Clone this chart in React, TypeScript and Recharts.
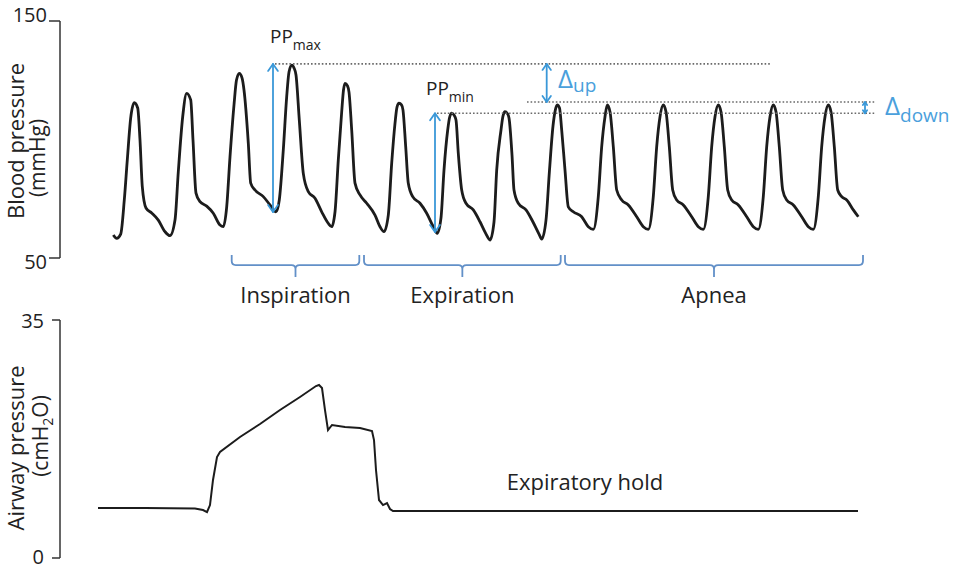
import React from 'react';
import { LineChart, Line, XAxis, YAxis, ReferenceLine, ReferenceDot } from 'recharts';

const FONT = '"Open Sans", "Liberation Sans", sans-serif';
const TEXT = '#222222';
const TRACE = '#1c1c1c';
const ARROW = '#3a98d8';
const DELTA = '#4aa0dc';
const BRACKET = '#6290c8';
const DOTS = '#6a6a6a';

// time in 1/100 s, arterial blood pressure in mmHg
const bloodPressure: [number, number][] = [
  [52.3, 59.7], [55.7, 58.3], [59.7, 60.1], [63.3, 74.5], [66.3, 91.4], [69.7, 109.1], [73.3, 115.5], [76.7, 113.3], [79, 99.8], [81.3, 80.1], [85, 71.1], [90.7, 69.0], [97.3, 66.0], [104, 61.1], [109, 59.4],
  [114, 66.0], [117.3, 86.4], [121.7, 109.6], [125.7, 119.5], [129.7, 116.7], [132, 99.8], [135, 77.4], [139, 73.8], [145.7, 71.9], [152.3, 68.9], [159, 63.9], [162.3, 63.2],
  [165.7, 71.6], [169, 92.7], [173, 114.6], [175.5, 125.1], [178.3, 127.9], [181, 126.0], [183, 120.9], [187.3, 98.5], [189.7, 81.6], [194, 78.7], [202.3, 75.9], [209, 72.4], [215, 69.5],
  [218.3, 74.5], [222.3, 95.6], [225.7, 118.1], [228, 128.5], [230.7, 131.4], [233, 130.2], [235, 127.2], [238.3, 108.2], [242.3, 85.7], [247.3, 78.0], [254, 75.2], [260.7, 69.5], [267.3, 64.6], [270.7, 63.2],
  [274, 69.4], [277.3, 91.4], [280.7, 111.7], [282.5, 120.9], [284, 123.7], [286.5, 122.6], [288, 120.0], [290.7, 104.0], [294, 81.6], [299, 76.6], [305.7, 73.1], [314, 68.1], [319, 63.2], [323, 61.1],
  [327.3, 68.1], [330.7, 90.0], [334, 106.8], [336, 113.7], [338, 115.3], [340.5, 114.6], [342, 112.4], [344.7, 97.0], [347.3, 81.5], [351.7, 75.9], [359, 73.1], [365.7, 68.9], [372.3, 63.2], [376.3, 60.4],
  [380, 66.9], [383, 87.1], [386.7, 104.0], [388.7, 109.5], [390.7, 111.1], [393, 110.3], [395, 108.2], [397.3, 94.2], [400.7, 78.7], [405, 73.1], [412.3, 70.3], [419, 65.3], [424.7, 60.4], [429, 57.6],
  [433, 65.2], [435.7, 87.1], [440, 104.0], [442, 109.9], [444, 111.7], [446.3, 111.0], [448, 109.1], [451, 93.5], [453, 78.7], [457.3, 73.1], [465, 70.3], [472, 65.2], [478, 60.1], [480.7, 58.0],
  [485, 66.0], [488.5, 87.1], [492, 105.7], [494.3, 112.4], [496.3, 114.6], [498.5, 113.3], [500.7, 104.0], [504, 87.1], [507.3, 71.6], [512.3, 69.5], [520.7, 67.4], [527.3, 63.2], [532.3, 62.1],
  [537.3, 75.9], [540.7, 97.0], [544, 109.6], [546.3, 114.6], [549, 111.7], [552.3, 97.0], [555.7, 78.7], [560.7, 74.5], [567.3, 72.4], [575.7, 67.4], [582.3, 63.2], [587.3, 62.1],
  [592.3, 75.9], [595.7, 97.0], [599, 109.6], [602.3, 114.6], [605, 111.7], [608.3, 97.0], [611.7, 78.7], [615.7, 74.5], [622.3, 72.4], [630.7, 67.4], [637.3, 63.2], [642.3, 62.1],
  [647.3, 75.9], [650.7, 97.0], [654, 109.6], [657.3, 114.6], [660, 111.7], [663.3, 97.0], [666.7, 78.7], [670.7, 74.5], [677.3, 72.4], [685.7, 67.4], [692.3, 63.2], [697.3, 62.1],
  [702.3, 75.9], [705.7, 97.0], [709, 109.6], [712.3, 114.6], [715, 111.7], [718.3, 97.0], [721.7, 78.7], [725.7, 74.5], [732.3, 72.4], [740.7, 67.4], [747.3, 63.2], [752.3, 62.1],
  [757.3, 75.9], [760.7, 97.0], [764, 109.6], [767.3, 114.6], [770, 111.7], [773.3, 97.0], [776.7, 78.7], [780.7, 75.9], [785.7, 74.5], [792.3, 70.3], [797.3, 67.4],
];

// time in 1/100 s, airway pressure in cmH2O
const airwayPressure: [number, number][] = [
  [37, 7.35], [84, 7.35], [134, 7.28], [142, 7.06], [146, 6.76], [149, 7.79], [152, 11.47], [156, 14.85], [159, 15.59],
  [179, 17.79], [199, 19.71], [219, 21.76], [239, 23.68], [255, 25.29], [258, 25.44], [261, 25.0], [264, 21.76], [267, 18.82],
  [271, 19.56], [284, 19.26], [299, 19.12], [311, 18.68], [313, 17.35], [315, 12.94], [318, 8.53], [322, 7.79], [326, 8.09],
  [329, 7.21], [332, 6.91], [797, 6.91],
];

const timeDomain: [number, number] = [-1, 819];
const bpDomain: [number, number] = [50, 150];
const bpTicks = [50, 150];
const awDomain: [number, number] = [0, 35];
const awTicks = [0, 35];

// dotted pulse-pressure levels (mmHg)
const dottedLevels = [
  { from: 214, to: 709, level: 131.9 },
  { from: 466, to: 814, level: 115.8 },
  { from: 376, to: 814, level: 111.05 },
];

// double-headed arrows (time, from mmHg, to mmHg)
const arrows = [
  { t: 212, from: 131.9, to: 69.4, head: 7 },
  { t: 374, from: 111.05, to: 61.0, head: 7 },
  { t: 485.7, from: 131.9, to: 115.8, head: 6 },
  { t: 804, from: 115.8, to: 111.05, head: 3 },
];

const phases = [
  { name: 'Inspiration', start: 170.7, end: 298.3 },
  { name: 'Expiration', start: 303, end: 499.7 },
  { name: 'Apnea', start: 504, end: 802 },
];
const bracketLevel = 47.0;
const phaseLabelLevel = 31.0;

const subLabels = [
  { t: 209, v: 140.7, main: 'PP', sub: 'max', size: 19, subSize: 14, dy: 7, color: TEXT },
  { t: 365, v: 118.8, main: 'PP', sub: 'min', size: 19, subSize: 14, dy: 7, color: TEXT },
  { t: 497, v: 121.7, main: 'Δ', sub: 'up', size: 26, subSize: 19, dy: 4, color: DELTA },
  { t: 824, v: 110.3, main: 'Δ', sub: 'down', size: 26, subSize: 19, dy: 7, color: DELTA },
];

const holdLabel = { t: 524, v: 10.0, text: 'Expiratory hold' };

const bpData = bloodPressure.map(([t, v]) => ({ t, bp: v }));
const awData = airwayPressure.map(([t, v]) => ({ t, aw: v }));

const makeTick = (offsets: Record<number, number>) => (props: any) => {
  const { x, y, payload } = props;
  return (
    <text x={x} y={y + (offsets[payload.value] ?? 0)} dy="0.35em" textAnchor="end" fontSize={20} fill={TEXT} fontFamily={FONT}>
      {payload.value}
    </text>
  );
};

const arrowShape = (head: number) => (props: any) => {
  const { x1, y1, x2, y2 } = props;
  const dir = y2 > y1 ? 1 : -1;
  const w = head * 0.7;
  return (
    <g stroke={ARROW} strokeWidth={1.8} fill="none" strokeLinecap="round" strokeLinejoin="round">
      <line x1={x1} y1={y1} x2={x2} y2={y2} />
      <polyline points={`${x1 - w},${y1 + dir * head} ${x1},${y1} ${x1 + w},${y1 + dir * head}`} />
      <polyline points={`${x2 - w},${y2 - dir * head} ${x2},${y2} ${x2 + w},${y2 - dir * head}`} />
    </g>
  );
};

const dottedShape = (props: any) => {
  const { x1, y1, x2, y2 } = props;
  return <line x1={x1} y1={y1} x2={x2} y2={y2} stroke={DOTS} strokeWidth={1.6} strokeDasharray="1.6 2" />;
};

const bracketShape = (props: any) => {
  const { x1, y1, x2 } = props;
  const y = y1;
  const xc = (x1 + x2) / 2;
  const r = 4;
  const up = 10;
  const down = 12;
  const d = `M${x1},${y - up} L${x1},${y - r} Q${x1},${y} ${x1 + r},${y} L${xc - r},${y} Q${xc},${y} ${xc},${y + r} L${xc},${y + down} M${xc},${y + r} Q${xc},${y} ${xc + r},${y} L${x2 - r},${y} Q${x2},${y} ${x2},${y - r} L${x2},${y - up}`;
  return <path d={d} stroke={BRACKET} strokeWidth={1.8} fill="none" />;
};

const subLabelShape = (l: typeof subLabels[number]) => (props: any) => (
  <text x={props.cx} y={props.cy} fontFamily={FONT} fill={l.color}>
    <tspan fontSize={l.size}>{l.main}</tspan>
    <tspan fontSize={l.subSize} dy={l.dy}>{l.sub}</tspan>
  </text>
);

const centerText = (text: string, size: number) => (props: any) => (
  <text x={props.cx} y={props.cy} textAnchor="middle" fontFamily={FONT} fontSize={size} fill={TEXT}>
    {text}
  </text>
);

const bpAxisLabel = () => (
  <g fontFamily={FONT} fill={TEXT}>
    <text transform="translate(24,141) rotate(-90)" textAnchor="middle" fontSize={22}>Blood pressure</text>
    <text transform="translate(45,158) rotate(-90)" textAnchor="middle" fontSize={21}>(mmHg)</text>
  </g>
);

const awAxisLabel = () => (
  <g fontFamily={FONT} fill={TEXT}>
    <text transform="translate(24,158) rotate(-90)" textAnchor="middle" fontSize={22}>Airway pressure</text>
    <text transform="translate(48,146) rotate(-90)" textAnchor="middle" fontSize={21}>
      <tspan>(cmH</tspan>
      <tspan fontSize={14} dy={5}>2</tspan>
      <tspan dy={-5}>O)</tspan>
    </text>
  </g>
);

export default function App() {
  return (
    <div style={{ position: 'absolute', left: 0, top: 0, width: 962, height: 571, background: '#fff', overflow: 'hidden' }}>
      <div style={{ position: 'absolute', left: 0, top: 0 }}>
        <LineChart width={962} height={330} data={bpData} margin={{ top: 21, right: 82, bottom: 72, left: 0 }}>
          <XAxis dataKey="t" type="number" domain={timeDomain} hide allowDataOverflow />
          <YAxis
            type="number"
            domain={bpDomain}
            ticks={bpTicks}
            width={60}
            tickSize={11}
            tickMargin={2}
            axisLine={{ stroke: '#333', strokeWidth: 1.5 }}
            tickLine={{ stroke: '#333', strokeWidth: 1.5 }}
            tick={makeTick({ 150: -6, 50: 4 })}
            label={{ content: bpAxisLabel }}
          />
          <Line dataKey="bp" type="monotone" stroke={TRACE} strokeWidth={2.8} dot={false} isAnimationActive={false} />
          {dottedLevels.map((d, i) => (
            <ReferenceLine key={`dl${i}`} segment={[{ x: d.from, y: d.level }, { x: d.to, y: d.level }]} ifOverflow="visible" shape={dottedShape} />
          ))}
          {arrows.map((a, i) => (
            <ReferenceLine key={`ar${i}`} segment={[{ x: a.t, y: a.from }, { x: a.t, y: a.to }]} ifOverflow="visible" shape={arrowShape(a.head)} />
          ))}
          {phases.map((p, i) => (
            <ReferenceLine key={`br${i}`} segment={[{ x: p.start, y: bracketLevel }, { x: p.end, y: bracketLevel }]} ifOverflow="visible" shape={bracketShape} />
          ))}
          {phases.map((p, i) => (
            <ReferenceDot key={`pl${i}`} x={(p.start + p.end) / 2} y={phaseLabelLevel} r={0} ifOverflow="visible" shape={centerText(p.name, 22)} />
          ))}
          {subLabels.map((l, i) => (
            <ReferenceDot key={`sl${i}`} x={l.t} y={l.v} r={0} ifOverflow="visible" shape={subLabelShape(l)} />
          ))}
        </LineChart>
      </div>
      <div style={{ position: 'absolute', left: 0, top: 290 }}>
        <LineChart width={962} height={281} data={awData} margin={{ top: 30, right: 82, bottom: 13, left: 0 }}>
          <XAxis dataKey="t" type="number" domain={timeDomain} hide allowDataOverflow />
          <YAxis
            type="number"
            domain={awDomain}
            ticks={awTicks}
            width={60}
            tickSize={8}
            tickMargin={8}
            axisLine={{ stroke: '#333', strokeWidth: 1.5 }}
            tickLine={{ stroke: '#333', strokeWidth: 1.5 }}
            tick={makeTick({ 35: 1, 0: -1 })}
            label={{ content: awAxisLabel }}
          />
          <Line dataKey="aw" type="linear" stroke={TRACE} strokeWidth={2} dot={false} isAnimationActive={false} />
          <ReferenceDot x={holdLabel.t} y={holdLabel.v} r={0} ifOverflow="visible" shape={centerText(holdLabel.text, 22)} />
        </LineChart>
      </div>
    </div>
  );
}
